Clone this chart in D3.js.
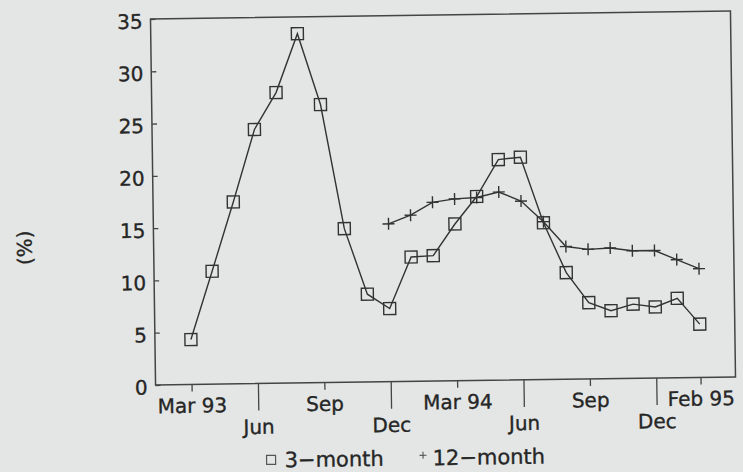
<!DOCTYPE html>
<html>
<head>
<meta charset="utf-8">
<script src="https://cdn.jsdelivr.net/npm/d3@7"></script>
<style>
  html, body { margin: 0; padding: 0; background: #e4e6e5; }
  svg { display: block; }
</style>
</head>
<body>
<svg id="chart" width="743" height="472"></svg>
<script>
// ---- data ----
const months = ["Mar 93","Apr 93","May 93","Jun 93","Jul 93","Aug 93","Sep 93","Oct 93","Nov 93","Dec 93",
                "Jan 94","Feb 94","Mar 94","Apr 94","May 94","Jun 94","Jul 94","Aug 94","Sep 94","Oct 94",
                "Nov 94","Dec 94","Jan 95","Feb 95"];
const threeMonth = [4.3, 10.8, 17.4, 24.3, 27.8, 33.4, 26.6, 14.7, 8.4, 7.0,
                    11.9, 12.0, 15.0, 17.6, 21.1, 21.3, 15.0, 10.2, 7.3, 6.5,
                    7.1, 6.8, 7.6, 5.1];
const twelveMonth = [null, null, null, null, null, null, null, null, null, 15.1,
                     15.9, 17.1, 17.4, 17.5, 18.0, 17.1, 15.1, 12.7, 12.4, 12.5,
                     12.2, 12.2, 11.3, 10.4];
const tickMonths = ["Mar 93","Jun 93","Sep 93","Dec 93","Mar 94","Jun 94","Sep 94","Dec 94","Feb 95"];
const tickLabels = ["Mar 93","Jun","Sep","Dec","Mar 94","Jun","Sep","Dec","Feb 95"];
const tickMajor  = [false, true, false, true, false, true, false, true, false];
const yTicks = [0, 5, 10, 15, 20, 25, 30, 35];
const seriesNames = ["3\u2212month", "12\u2212month"];
const yTitle = "(%)";

// ---- layout ----
const W = 743, H = 472;
const frame = { left: 153, right: 733, top: 15, bottom: 381 };
const ink = "#333";
const txt = "#262626";
const font = "'DejaVu Sans', sans-serif";

const svg = d3.select("#chart");
svg.append("rect").attr("width", W).attr("height", H).attr("fill", "#e4e6e5");

// the scanned original is tilted slightly
const g = svg.append("g").attr("transform", "rotate(-0.79 443 198)");

const x = d3.scalePoint().domain(months).range([189, 698]);
const y = d3.scaleLinear().domain([0, 35]).range([frame.bottom, frame.top]);

function styleText(sel, size) {
  sel.attr("font-family", font).attr("font-size", size).attr("fill", txt)
     .attr("stroke", txt).attr("stroke-width", 0.35);
}

// frame
g.append("rect")
  .attr("x", frame.left).attr("y", frame.top)
  .attr("width", frame.right - frame.left).attr("height", frame.bottom - frame.top)
  .attr("fill", "none").attr("stroke", "#444").attr("stroke-width", 1.5);

// y axis
const yAxis = g.append("g")
  .attr("transform", `translate(${frame.left},0)`)
  .call(d3.axisLeft(y).tickValues(yTicks).tickSize(-5).tickPadding(8));
yAxis.select(".domain").remove();
yAxis.selectAll("line").attr("stroke", "#444").attr("stroke-width", 1.3);
styleText(yAxis.selectAll("text").attr("dy", "0.45em"), 20);

// x axis
const xAxis = g.append("g")
  .attr("transform", `translate(0,${frame.bottom})`)
  .call(d3.axisBottom(x).tickValues(tickMonths).tickSize(7).tickFormat((d, i) => tickLabels[i]));
xAxis.select(".domain").remove();
xAxis.selectAll(".tick").each(function (d, i) {
  const t = d3.select(this);
  t.select("line").attr("y2", tickMajor[i] ? 27 : 7).attr("stroke", "#444").attr("stroke-width", 1.3);
  t.select("text").attr("y", tickMajor[i] ? 36 : 14);
});
styleText(xAxis.selectAll("text"), 20);

// y title
styleText(g.append("text")
  .attr("transform", "translate(24,242) rotate(-90)")
  .attr("text-anchor", "middle").attr("dy", "0.35em")
  .text(yTitle), 20);

// lines
const line = d3.line()
  .defined(d => d.v != null)
  .x(d => x(d.m)).y(d => y(d.v));
const s3 = months.map((m, i) => ({ m, v: threeMonth[i] }));
const s12 = months.map((m, i) => ({ m, v: twelveMonth[i] })).filter(d => d.v != null);

g.append("path").datum(s12).attr("d", line)
  .attr("fill", "none").attr("stroke", ink).attr("stroke-width", 1.4);
g.append("path").datum(s3).attr("d", line)
  .attr("fill", "none").attr("stroke", ink).attr("stroke-width", 1.4);

// markers
const sq = 12;
g.selectAll(".sq").data(s3).enter().append("rect")
  .attr("x", d => x(d.m) - sq / 2).attr("y", d => y(d.v) - sq / 2)
  .attr("width", sq).attr("height", sq)
  .attr("fill", "none").attr("stroke", ink).attr("stroke-width", 1.4);

const pl = 6;
const plus = g.selectAll(".pl").data(s12).enter().append("g")
  .attr("transform", d => `translate(${x(d.m)},${y(d.v)})`);
plus.append("line").attr("x1", -pl).attr("x2", pl).attr("stroke", ink).attr("stroke-width", 1.4);
plus.append("line").attr("y1", -pl).attr("y2", pl).attr("stroke", ink).attr("stroke-width", 1.4);

// legend
const lg = g.append("g");
lg.append("rect").attr("x", 263).attr("y", 453).attr("width", 9).attr("height", 9)
  .attr("fill", "none").attr("stroke", "#555").attr("stroke-width", 1.2);
styleText(lg.append("text").attr("x", 281).attr("y", 465).text(seriesNames[0]), 21);
lg.append("line").attr("x1", 416).attr("x2", 423).attr("y1", 455).attr("y2", 455).attr("stroke", "#555").attr("stroke-width", 1.1);
lg.append("line").attr("x1", 419.5).attr("x2", 419.5).attr("y1", 451.5).attr("y2", 458.5).attr("stroke", "#555").attr("stroke-width", 1.1);
styleText(lg.append("text").attr("x", 429).attr("y", 465).text(seriesNames[1]), 21);
</script>
</body>
</html>
